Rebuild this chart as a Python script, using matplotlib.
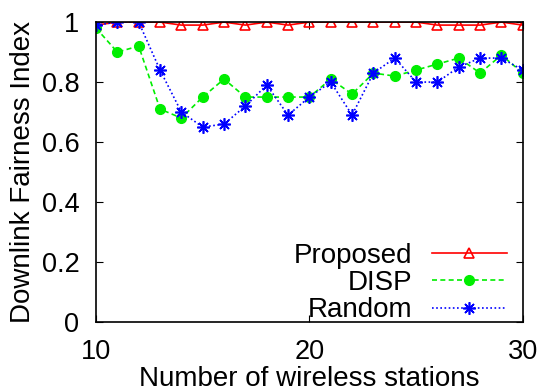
import matplotlib
matplotlib.use("Agg")
import matplotlib.pyplot as plt

plt.rcParams["font.family"] = ["Liberation Sans", "DejaVu Sans"]

stations = list(range(10, 31))
proposed = [0.99, 1.0, 1.0, 1.0, 0.99, 0.99, 1.0, 0.99, 1.0, 0.99, 1.0,
            1.0, 1.0, 1.0, 1.0, 1.0, 0.99, 0.99, 0.99, 1.0, 0.99]
disp = [0.98, 0.90, 0.92, 0.71, 0.68, 0.75, 0.81, 0.75, 0.75, 0.75, 0.75,
        0.81, 0.76, 0.83, 0.82, 0.84, 0.86, 0.88, 0.83, 0.89, 0.83]
random_sel = [0.99, 1.0, 1.0, 0.84, 0.70, 0.65, 0.66, 0.72, 0.79, 0.69, 0.75,
              0.80, 0.69, 0.83, 0.88, 0.80, 0.80, 0.85, 0.88, 0.88, 0.84]

fig = plt.figure(figsize=(5.44, 3.91), dpi=100)
ax = fig.add_axes([0.1765, 0.1765, 0.7845, 0.767])

ax.plot(stations, proposed, color="#ff0000", linestyle="-", linewidth=1.2,
        marker="^", markersize=7, markerfacecolor="none", markeredgecolor="#ff0000",
        markeredgewidth=1.2, label="Proposed")
ax.plot(stations, disp, color="#00ee00", linestyle=(0, (3, 2)), linewidth=1.2,
        marker="o", markersize=7, label="DISP")
ax.plot(stations, random_sel, color="#0000ff", linestyle=(0, (1, 1.5)), linewidth=1.2,
        marker=(8, 2, 0), markersize=9, markeredgewidth=1.2, label="Random")

ax.set_xlim(10, 30)
ax.set_ylim(0, 1)
ax.set_xticks([10, 20, 30])
ax.set_yticks([0, 0.2, 0.4, 0.6, 0.8, 1])
ax.set_yticklabels(["0", "0.2", "0.4", "0.6", "0.8", "1"])
ax.tick_params(direction="in", top=True, right=True, labelsize=19.5, length=5)
ax.tick_params(axis="x", pad=12)
ax.tick_params(axis="y", pad=12)
ax.set_xlabel("Number of wireless stations", fontsize=20, labelpad=1)
ax.set_ylabel("Downlink Fairness Index", fontsize=20, labelpad=4)
for s in ax.spines.values():
    s.set_linewidth(1.2)

ax.legend(loc="lower right", bbox_to_anchor=(0.9625, -0.005), frameon=False,
          markerfirst=False, fontsize=20, handlelength=2.7, labelspacing=0.05,
          borderpad=0, borderaxespad=0, handletextpad=0.7)

fig.savefig("out.png", dpi=100)
